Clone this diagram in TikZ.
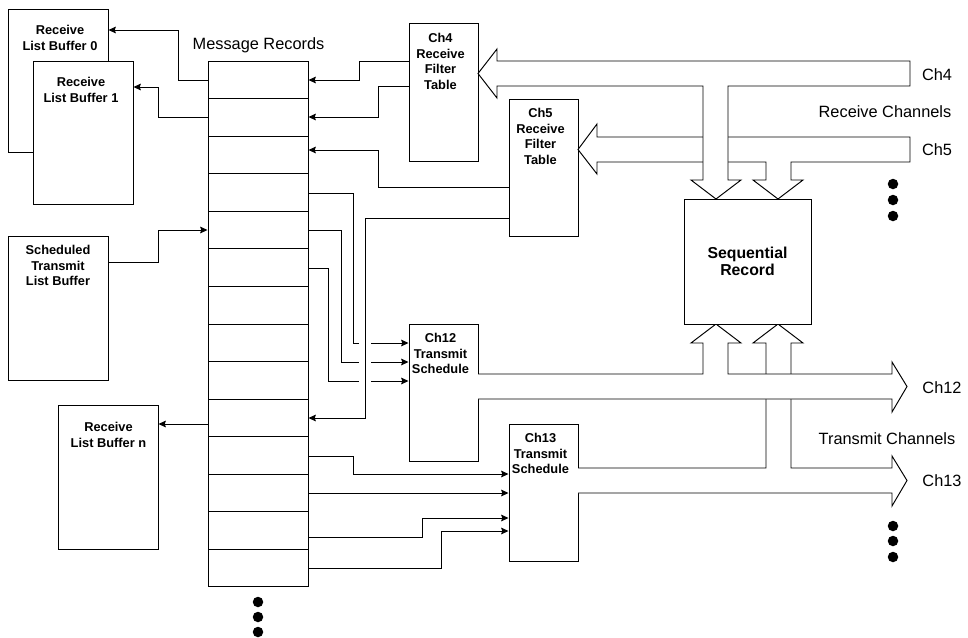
\documentclass[tikz,border=0pt]{standalone}
\usepackage{fontspec}
\setmainfont{Liberation Sans}
\usetikzlibrary{arrows.meta}
\begin{document}
\begin{tikzpicture}[
    x=0.02cm, y=-0.02cm,
    line width=0.55pt,
    buf/.style={draw, fill=white, minimum width=2cm, minimum height=2.87cm},
    tbl/.style={draw, fill=white, minimum width=1.38cm, minimum height=2.75cm},
    btxt/.style={anchor=north, align=center, inner sep=0pt, font=\bfseries\fontsize{7.3}{8.8}\selectfont},
    big/.style={anchor=base, inner sep=0pt, font=\fontsize{9.3}{11}\selectfont},
    band/.style={draw, fill=white, line join=miter},
    wire/.style={draw},
    arr/.style={draw, -{Stealth[length=4.2pt, width=3.8pt, inset=0.6pt]}}
  ]
    \useasboundingbox (0,0) rectangle (968,637);

    \node[buf] (rlb0) at (58,81) {};
    \node[btxt] (rlb0t) at (60,25) {Receive\\List Buffer 0};
    \node[buf] (rlb1) at (83,133) {};
    \node[btxt] (rlb1t) at (81,77) {Receive\\List Buffer 1};
    \node[buf] (stlb) at (58,308.5) {};
    \node[btxt] (stlbt) at (58,245) {Scheduled\\Transmit\\List Buffer};
    \node[buf] (rlbn) at (108,477.5) {};
    \node[btxt] (rlbnt) at (108.5,422) {Receive\\List Buffer n};

    \node[draw, minimum width=2cm, minimum height=10.52cm] (mr) at (258,324) {};
    \foreach \k in {1,...,13}
      \draw[wire] (208,61+37.57*\k) -- ++(100,0);
    \node[big] (mrl) at (258.5,49) {Message Records};
    \foreach \y in {602,617,632}
      \fill (258,\y) circle (0.105cm);

    \node[tbl] (ch4) at (443.5,92.5) {};
    \node[btxt] (ch4t) at (440.5,33) {Ch4\\Receive\\Filter\\Table};
    \node[tbl] (ch5) at (543.5,168) {};
    \node[btxt] (ch5t) at (540.5,108) {Ch5\\Receive\\Filter\\Table};
    \node[tbl] (ch12) at (443.5,393) {};
    \node[btxt] (ch12t) at (440.5,333) {Ch12\\Transmit\\Schedule};
    \node[tbl] (ch13) at (543.5,493) {};
    \node[btxt] (ch13t) at (540.5,433) {Ch13\\Transmit\\Schedule};

    \draw[band] (910,137) -- (597,137) -- (597,124) -- (578,149.5) -- (597,174) -- (597,162)
      -- (766,162) -- (766,180) -- (753,180) -- (778,199) -- (803,180) -- (791,180)
      -- (791,162) -- (910,162) -- cycle;
    \draw[band] (910,61) -- (497,61) -- (497,49) -- (478,73.5) -- (497,98) -- (497,86)
      -- (703,86) -- (703,180) -- (691,180) -- (716,199) -- (741,180) -- (728,180)
      -- (728,86) -- (910,86) -- cycle;
    \draw[band] (578,468) -- (766,468) -- (766,343) -- (753,343) -- (778,324) -- (803,343)
      -- (791,343) -- (791,468) -- (892,468) -- (892,456) -- (907,480.5) -- (892,506)
      -- (892,493) -- (578,493);
    \draw[band] (478,374) -- (703,374) -- (703,343) -- (691,343) -- (716,324) -- (741,343)
      -- (728,343) -- (728,374) -- (892,374) -- (892,362) -- (907,386.5) -- (892,412)
      -- (892,399) -- (478,399);

    \node[draw, fill=white, minimum width=2.54cm, minimum height=2.5cm, align=center,
      font=\bfseries\fontsize{9}{10}\selectfont] (seq) at (747.5,261.5) {Sequential\\Record};

    \node[big] (c4l) at (937,80.5) {Ch4};
    \node[big] (rcl) at (885,117) {Receive Channels};
    \node[big] (c5l) at (937,155) {Ch5};
    \node[big] (c12l) at (942,393) {Ch12};
    \node[big] (tcl) at (887,444) {Transmit Channels};
    \node[big] (c13l) at (942,486.5) {Ch13};
    \foreach \y in {184,200,216,526,541,557}
      \fill (893,\y) circle (0.105cm);

    \draw[arr] (mr.west |- 0,80) -| (178,30) -- (rlb0.east |- 0,30);
    \draw[arr] (mr.west |- 0,117) -| (158,87) -- (rlb1.east |- 0,87);
    \draw[arr] (stlb.east |- 0,262) -| (158,230) -- (mr.west |- 0,230);
    \draw[arr] (mr.west |- 0,424) -- (rlbn.east |- 0,424);

    \draw[arr] (ch4.west |- 0,61) -| (359,80) -- (mr.east |- 0,80);
    \draw[arr] (ch4.west |- 0,86) -| (378,117) -- (mr.east |- 0,117);
    \draw[arr] (ch5.west |- 0,187) -| (378,150) -- (mr.east |- 0,150);
    \draw[arr] (ch5.west |- 0,218) -| (365,418) -- (mr.east |- 0,418);

    \foreach \ys/\xt/\yt in {193/353/343, 230/341/362, 268/328/381} {
      \draw[wire] (mr.east |- 0,\ys) -| (\xt,\yt) -- (359,\yt);
      \draw[arr] (371,\yt) -- (ch12.west |- 0,\yt);
    }

    \draw[arr] (mr.east |- 0,456) -| (353,474) -- (ch13.west |- 0,474);
    \draw[arr] (mr.east |- 0,493) -- (ch13.west |- 0,493);
    \draw[arr] (mr.east |- 0,537) -| (422,518) -- (ch13.west |- 0,518);
    \draw[arr] (mr.east |- 0,568) -| (441,531) -- (ch13.west |- 0,531);
  \end{tikzpicture}
\end{document}
